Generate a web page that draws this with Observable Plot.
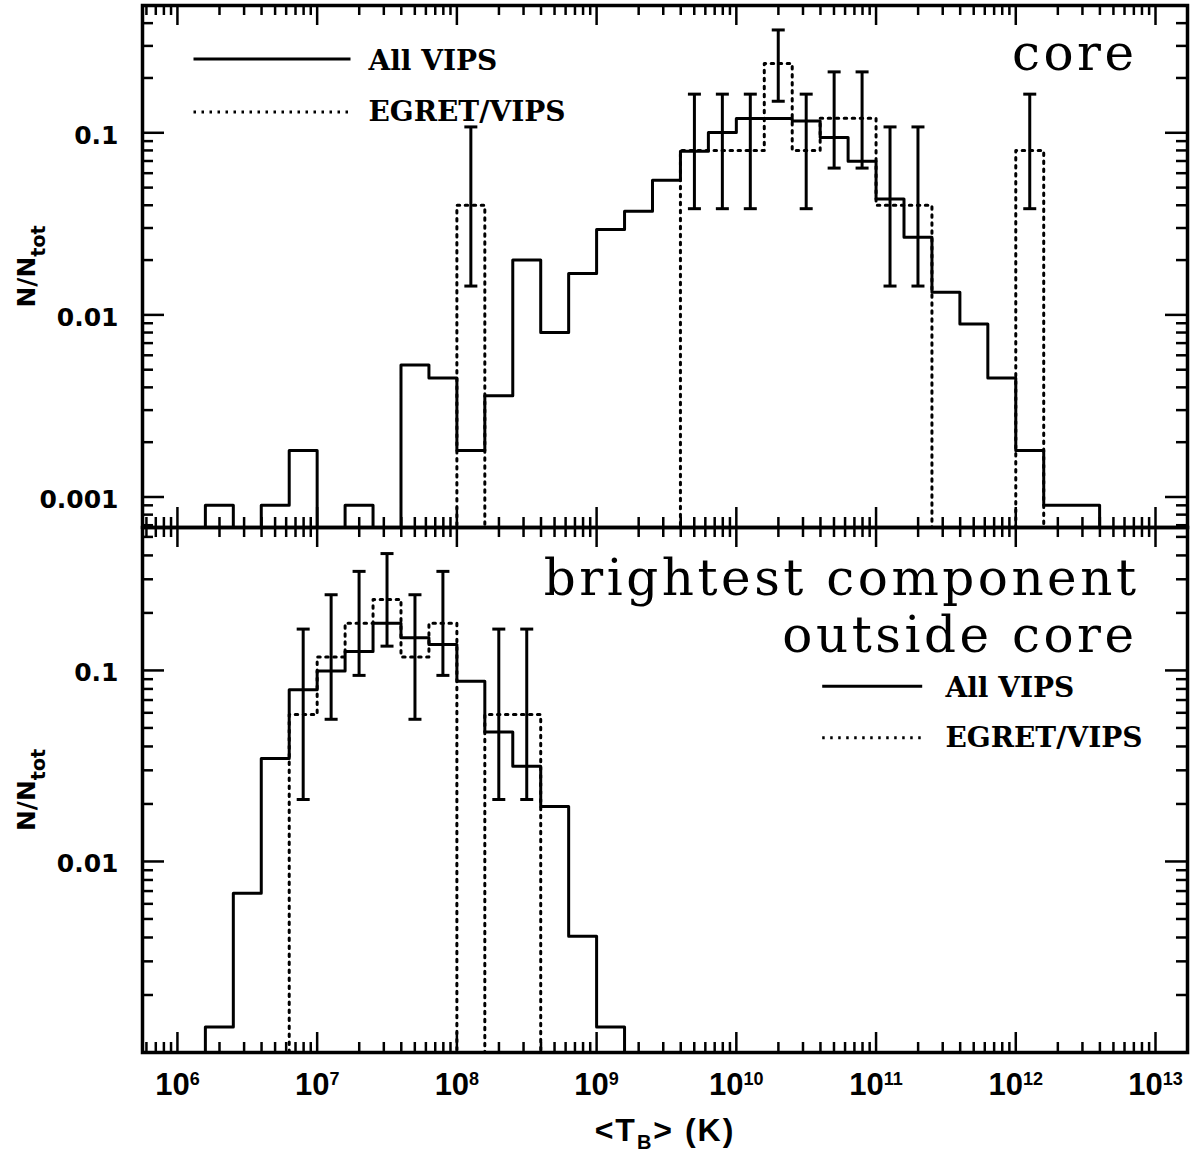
<!DOCTYPE html>
<html><head><meta charset="utf-8">
<script src="https://cdn.jsdelivr.net/npm/d3@7"></script>
<script src="https://cdn.jsdelivr.net/npm/@observablehq/plot@0.6"></script>
<style>
body{margin:0;background:#fff;}
#wrap{position:relative;width:1196px;height:1153px;background:#fff;}
#wrap svg{position:absolute;left:0;}
</style></head><body><div id="wrap"></div>
<script>
// ---------------- DATA ----------------
const BIN = 0.2; // bin width in dex
// Panel 1: core. Lower bin edges in log10(T_B / K)
const coreBinStart = [6.2,6.4,6.6,6.8,7.0,7.2,7.4,7.6,7.8,8.0,8.2,8.4,8.6,8.8,9.0,9.2,9.4,9.6,9.8,10.0,10.2,10.4,10.6,10.8,11.0,11.2,11.4,11.6,11.8,12.0,12.2,12.4];
const coreAllVIPS  = [0.0009,0,0.0009,0.0018,0,0.0009,0,0.0053,0.0045,0.0018,0.0036,0.0200,0.0080,0.0169,0.0294,0.0371,0.0548,0.0791,0.1005,0.1197,0.1197,0.1161,0.0941,0.0698,0.0433,0.0267,0.0133,0.0089,0.0045,0.0018,0.0009,0.0009];
const coreEGRET    = [0,0,0,0,0,0,0,0,0,0.04,0,0,0,0,0,0,0,0.08,0.08,0.08,0.24,0.08,0.12,0.12,0.04,0.04,0,0,0,0.08,0,0];
const coreErrX  = [8.1,9.7,9.9,10.1,10.3,10.5,10.7,10.9,11.1,11.3,12.1];
const coreErrLo = [0.0144,0.0383,0.0383,0.0383,0.149,0.0383,0.064,0.064,0.0144,0.0144,0.0383];
const coreErrHi = [0.1077,0.163,0.163,0.163,0.367,0.163,0.216,0.216,0.1077,0.1077,0.163];
// Panel 2: brightest component outside core
const outBinStart = [6.2,6.4,6.6,6.8,7.0,7.2,7.4,7.6,7.8,8.0,8.2,8.4,8.6,8.8,9.0];
const outAllVIPS  = [0.00136,0.00682,0.0346,0.0792,0.0994,0.1258,0.1766,0.1484,0.1367,0.0879,0.0476,0.0315,0.0194,0.00406,0.00136];
const outEGRET    = [0,0,0,0.0588,0.1176,0.1765,0.2353,0.1176,0.1765,0,0.0588,0.0588,0,0,0];
const outErrX  = [6.9,7.1,7.3,7.5,7.7,7.9,8.3,8.5];
const outErrLo = [0.0211,0.0555,0.0942,0.134,0.0555,0.0942,0.0211,0.0211];
const outErrHi = [0.1646,0.249,0.33,0.409,0.249,0.33,0.1646,0.1646];
// Axis tick labels
const xTickExponents = [6,7,8,9,10,11,12,13];
const coreYTickLabels = [0.1,0.01,0.001];
const outYTickLabels = [0.1,0.01];
const legendLabels = ["All VIPS","EGRET/VIPS"];
const coreTitle = "core";
const outTitle = ["brightest component","outside core"];
const xTitle = "<T_B> (K)";
const yTitle = "N/N_tot";

// ---------------- HELPERS ----------------
const XDOM = [10**5.75, 10**13.229];
const FLOOR = 1e-7;
const W = 1196, ML = 142, MR = 9;
const FW = W - ML - MR;
const DOTS = "2.5,5.5";

function steps(starts, vals){
  const pts = [{x:10**starts[0], y:FLOOR}];
  starts.forEach((s,i)=>pts.push({x:10**s, y: vals[i] > 0 ? vals[i] : FLOOR}));
  const end = starts[starts.length-1] + BIN;
  const last = vals[vals.length-1] > 0 ? vals[vals.length-1] : FLOOR;
  pts.push({x:10**end, y:last});
  pts.push({x:10**end, y:FLOOR});
  return pts;
}
const hbar = {draw(ctx, size){const r = Math.sqrt(size/Math.PI); ctx.moveTo(-r,0); ctx.lineTo(r,0);}};

function logTicks(lo, hi, eMin, eMax){
  const major=[], minor=[];
  for(let e=eMin;e<=eMax;e++) for(let m=1;m<=9;m++){
    const v = m*Math.pow(10,e);
    if(v>=lo*0.9999 && v<=hi*1.0001) (m===1?major:minor).push(v);
  }
  return {major, minor};
}

function panel(cfg){
  const {binStart, allV, egret, errX, errLo, errHi, yDomain, yLabels, height, mTop, mBottom, extra} = cfg;
  const FH = height - mTop - mBottom;
  const xt = logTicks(XDOM[0], XDOM[1], 5, 13);
  const yt = logTicks(yDomain[0], yDomain[1], -5, 0);
  const err = errX.map((x,i)=>({x:10**x, lo:errLo[i], hi:errHi[i]}));
  const tickStyle = {stroke:"black", strokeWidth:2.5};
  const marks = [
    Plot.ruleX(xt.major, {x:d=>d, insetTop:FH-20, ...tickStyle}),
    Plot.ruleX(xt.minor, {x:d=>d, insetTop:FH-10, ...tickStyle}),
    Plot.ruleX(xt.major, {x:d=>d, insetBottom:FH-20, ...tickStyle}),
    Plot.ruleX(xt.minor, {x:d=>d, insetBottom:FH-10, ...tickStyle}),
    Plot.ruleY(yt.major, {y:d=>d, insetRight:FW-22, ...tickStyle}),
    Plot.ruleY(yt.minor, {y:d=>d, insetRight:FW-11, ...tickStyle}),
    Plot.ruleY(yt.major, {y:d=>d, insetLeft:FW-22, ...tickStyle}),
    Plot.ruleY(yt.minor, {y:d=>d, insetLeft:FW-11, ...tickStyle}),
    Plot.line(steps(binStart, egret), {x:"x", y:"y", curve:"step-after", stroke:"black", strokeWidth:3, strokeDasharray:DOTS, clip:true}),
    Plot.line(steps(binStart, allV), {x:"x", y:"y", curve:"step-after", stroke:"black", strokeWidth:3, clip:true}),
    Plot.ruleX(err, {x:"x", y1:"lo", y2:"hi", stroke:"black", strokeWidth:3}),
    Plot.dot(err, {x:"x", y:"lo", symbol:hbar, r:6.5, fill:"none", stroke:"black", strokeWidth:3}),
    Plot.dot(err, {x:"x", y:"hi", symbol:hbar, r:6.5, fill:"none", stroke:"black", strokeWidth:3}),
    Plot.text(yLabels, {y:d=>d, text:d=>String(d), frameAnchor:"left", textAnchor:"end", lineAnchor:"middle", dx:-24, dy:3, fontSize:25, fontWeight:"bold", fontFamily:"DejaVu Sans", fill:"black"}),
    Plot.text([yTitle], {text:d=>d, frameAnchor:"left", rotate:-90, textAnchor:"middle", lineAnchor:"middle", dx:-116, fontSize:25, fontWeight:"bold", fontFamily:"DejaVu Sans", fill:"black"}),
    ...extra,
    Plot.frame({stroke:"black", strokeWidth:3.5})
  ];
  return Plot.plot({
    width: W, height, marginLeft: ML, marginRight: MR, marginTop: mTop, marginBottom: mBottom,
    style: {background:"transparent", overflow:"visible"},
    x: {type:"log", domain: XDOM, axis:null},
    y: {type:"log", domain: yDomain, axis:null},
    marks
  });
}

const legendFont = {fontSize:28, fontWeight:"bold", fontFamily:"DejaVu Serif", fill:"black", lineAnchor:"bottom", textAnchor:"start", frameAnchor:"top-left"};
const titleFont = {fontSize:50, fontFamily:"DejaVu Serif", fill:"black", lineAnchor:"bottom", textAnchor:"end", frameAnchor:"top-right"};
function legend(lx, ly, r, tx, ty){
  return [
    Plot.dot([0], {frameAnchor:"top-left", dx:lx, dy:ly, symbol:hbar, r, fill:"none", stroke:"black", strokeWidth:3}),
    Plot.dot([0], {frameAnchor:"top-left", dx:lx, dy:ly + (ty[1]-ty[0]) + 1.5, symbol:hbar, r, fill:"none", stroke:"black", strokeWidth:3, strokeDasharray:DOTS}),
    Plot.text([legendLabels[0]], {text:d=>d, dx:tx, dy:ty[0], ...legendFont}),
    Plot.text([legendLabels[1]], {text:d=>d, dx:tx, dy:ty[1], ...legendFont})
  ];
}

const topPlot = panel({
  binStart: coreBinStart, allV: coreAllVIPS, egret: coreEGRET,
  errX: coreErrX, errLo: coreErrLo, errHi: coreErrHi,
  yDomain: [6.8e-4, 0.5], yLabels: coreYTickLabels,
  height: 540, mTop: 5, mBottom: 13,
  extra: [
    ...legend(129.5, 53.5, 78.5, 226, [64, 115.5]),
    Plot.text([coreTitle], {text:d=>d, dx:-50, dy:64, ...titleFont})
  ]
});
const bottomPlot = panel({
  binStart: outBinStart, allV: outAllVIPS, egret: outEGRET,
  errX: outErrX, errLo: outErrLo, errHi: outErrHi,
  yDomain: [1e-3, 0.56], yLabels: outYTickLabels,
  height: 639, mTop: 13, mBottom: 101,
  extra: [
    ...legend(729.7, 158.7, 50, 803, [169.7, 219.7]),
    Plot.text([outTitle[0]], {text:d=>d, dx:-48, dy:67, ...titleFont}),
    Plot.text([outTitle[1]], {text:d=>d, dx:-50, dy:124, ...titleFont}),
    Plot.text(xTickExponents, {x:d=>10**d, text:d=>"10^"+d, frameAnchor:"bottom", textAnchor:"middle", lineAnchor:"top", dy:20, fontSize:31, fontWeight:"bold", fontFamily:"Liberation Sans", fill:"black"}),
    Plot.text([xTitle], {text:d=>d, frameAnchor:"bottom", textAnchor:"middle", lineAnchor:"bottom", dy:88, fontSize:32, fontWeight:"bold", fontFamily:"Liberation Sans", fill:"black"})
  ]
});

function rich(el, parts){
  el.textContent = "";
  const s = d3.select(el);
  parts.forEach(p=>{
    const t = s.append("tspan").text(p.t);
    if(p.dy) t.attr("dy", p.dy);
    if(p.fs) t.attr("font-size", p.fs);
  });
}
const titleSet = new Set([coreTitle, ...outTitle]);
function post(svg){
  d3.select(svg).selectAll("text").each(function(){
    const s = this.textContent;
    if (s === yTitle) {
      const [b, e] = s.split("_");
      rich(this, [{t:b}, {t:e, dy:10, fs:19}]);
    } else if (s === xTitle) {
      const m = s.match(/^(.*)_(.)(.*)$/);
      this.style.letterSpacing = "2px";
      rich(this, [{t:m[1]}, {t:m[2], dy:8, fs:20}, {t:m[3], dy:-8}]);
    } else if (s.startsWith("10^")) {
      const [b, e] = s.split("^");
      rich(this, [{t:b}, {t:e, dy:-10, fs:18}]);
    } else if (titleSet.has(s)) {
      this.style.letterSpacing = "3.5px";
    }
  });
}
post(topPlot); post(bottomPlot);
topPlot.style.top = "0px";
bottomPlot.style.top = "514px";
const wrap = document.getElementById("wrap");
wrap.appendChild(topPlot);
wrap.appendChild(bottomPlot);
</script></body></html>
